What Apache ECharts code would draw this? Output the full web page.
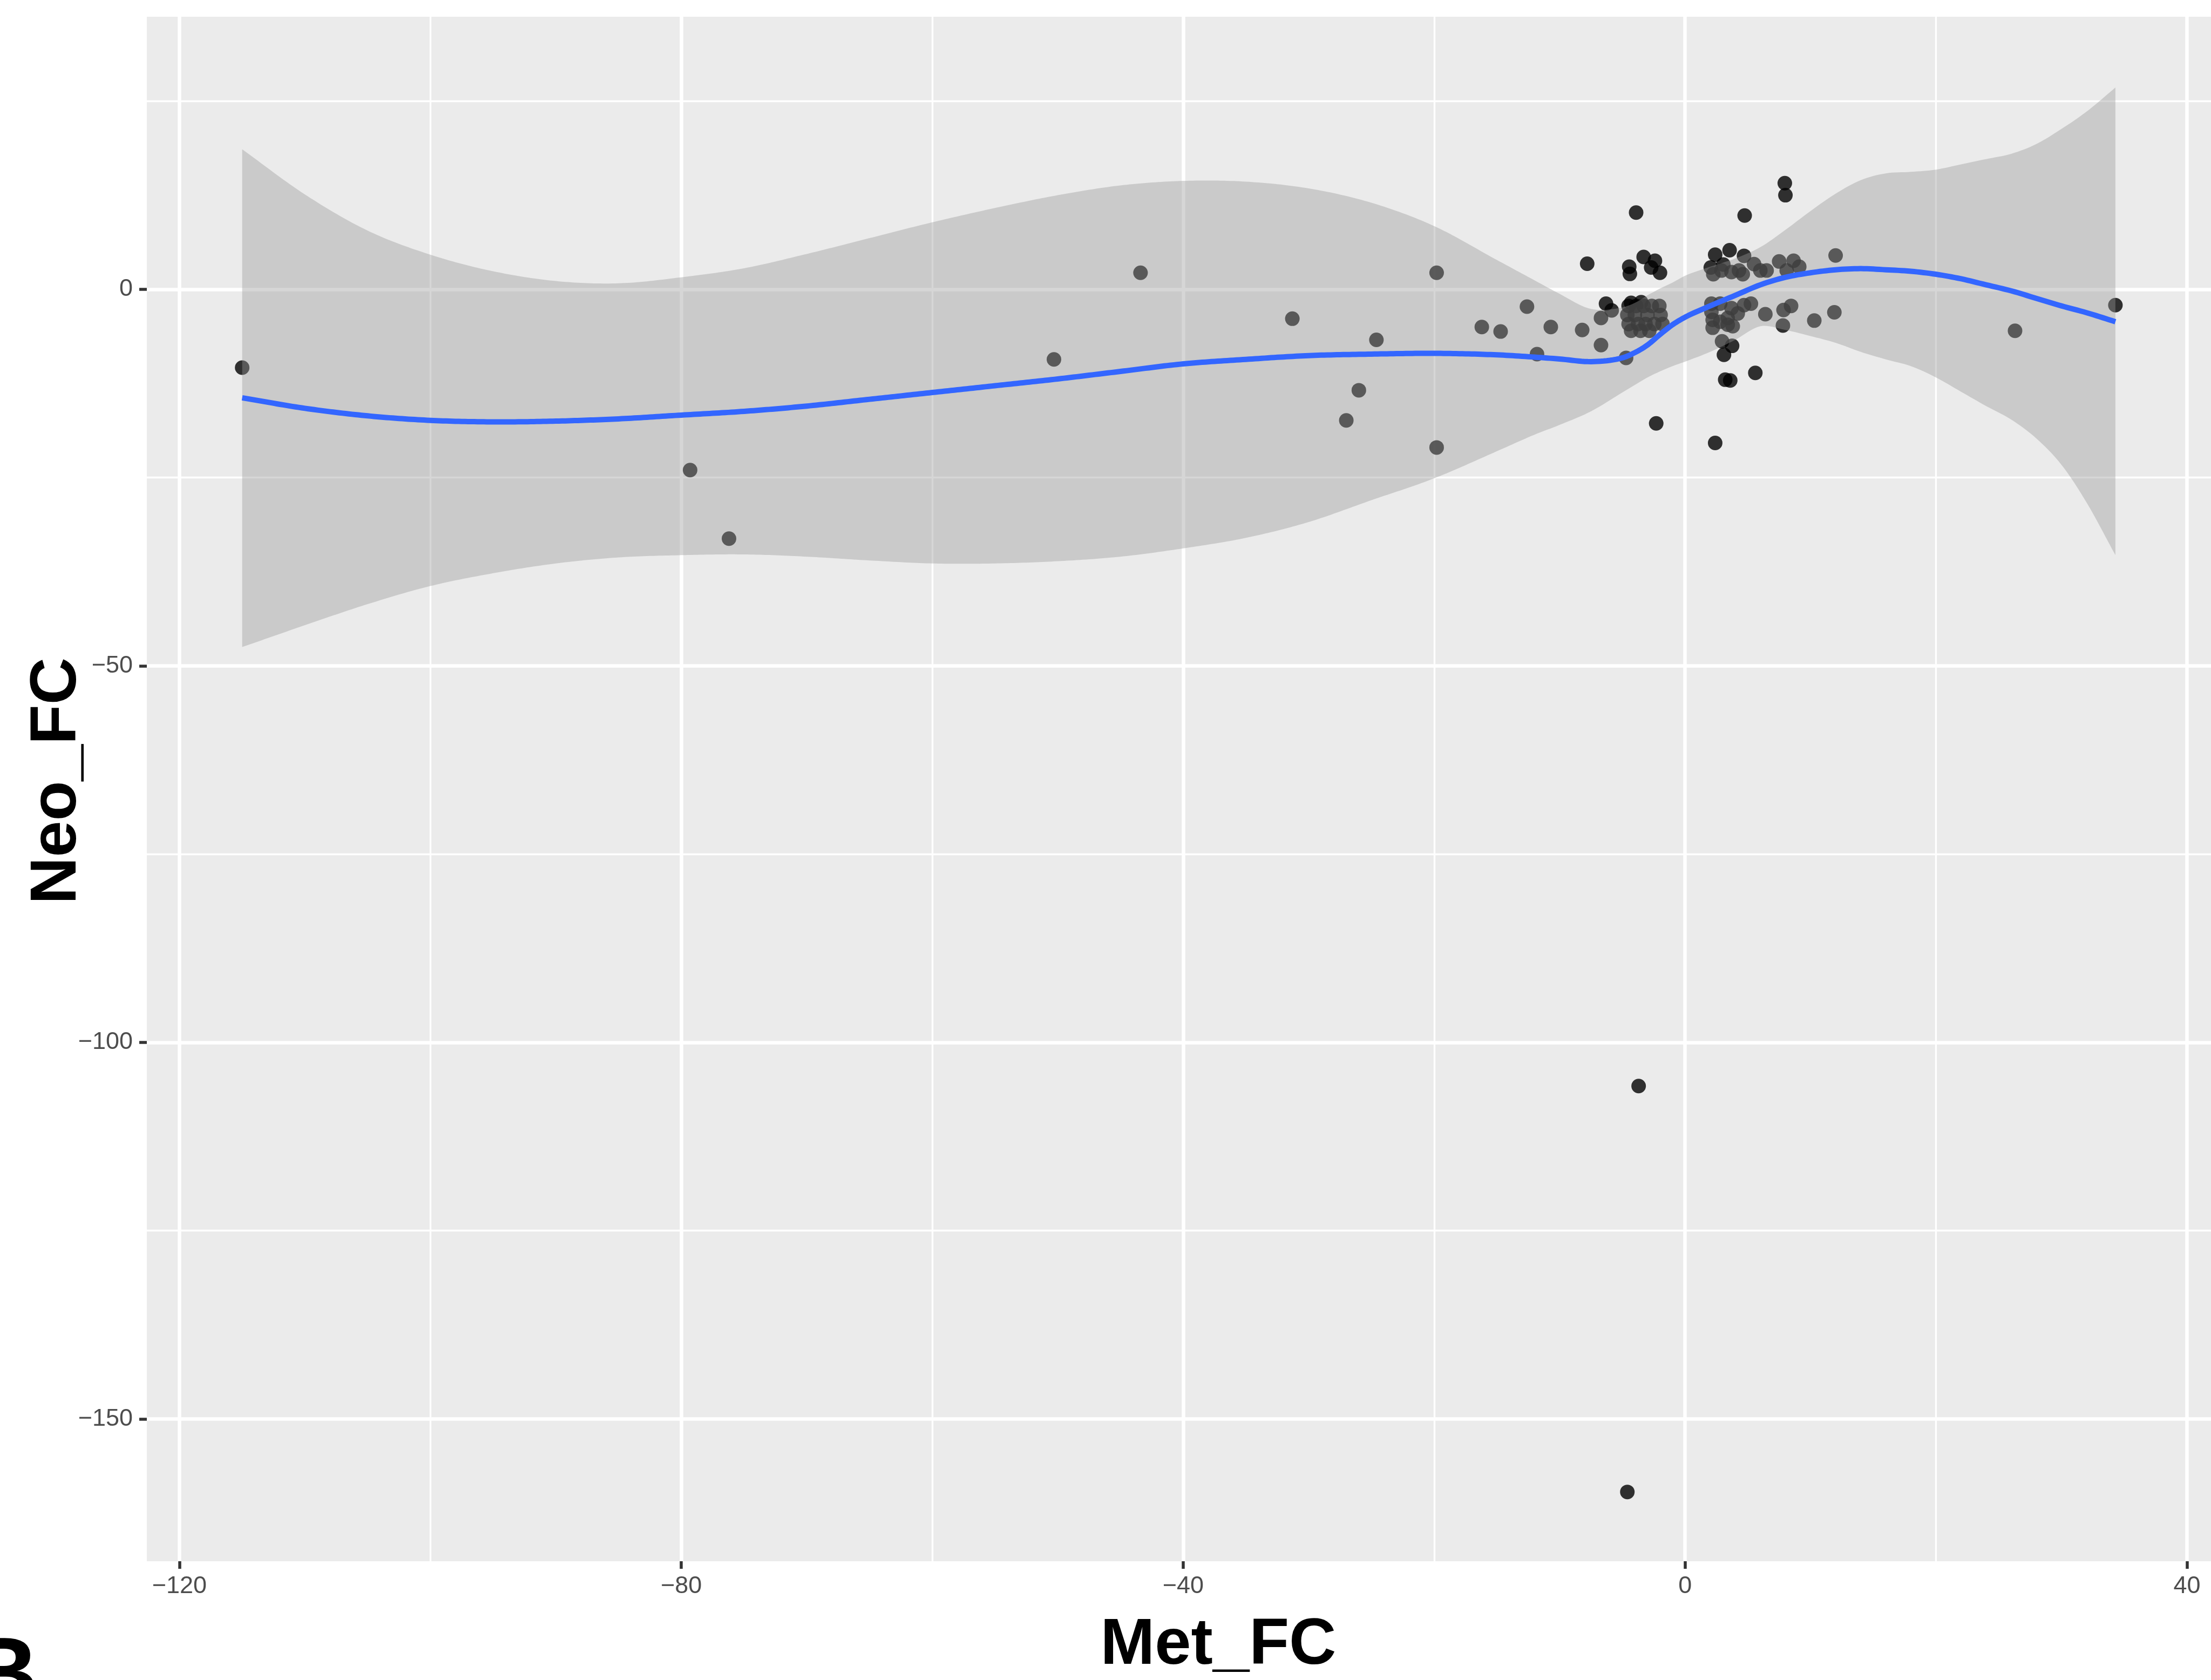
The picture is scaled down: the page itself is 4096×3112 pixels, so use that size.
<!DOCTYPE html>
<html>
<head>
<meta charset="utf-8">
<style>
  html, body { margin: 0; padding: 0; background: #ffffff; }
  #chart { width: 4096px; height: 3112px; }
</style>
<script src="https://cdn.jsdelivr.net/npm/echarts@6/dist/echarts.min.js"></script>
</head>
<body>
<div id="chart"></div>
<script>
// Fold changes per feature: metastasis (x) vs. neoplasm (y)
const metFC = [
  -115.0, -79.3, -76.2, -50.3, -43.4, -31.3, -27.0, -26.0, -24.6, -19.8,
  -19.8, -16.2, -14.7, -12.6, -11.8, -10.7, -8.2, -7.8, -6.7, -6.7,
  -6.3, -5.85, -4.7, -4.6, -3.7, -3.9, -4.45, -4.4, -3.3, -2.4,
  -2.7, -2.0, -2.3,
  -4.3, -3.5, -4.5, -3.9, -3.3, -2.65, -2.05, -4.6, -4.0, -3.0,
  -1.95, -4.5, -3.75, -3.15, -2.45, -1.8, -4.3, -3.55, -2.85,
  2.4, 3.55, 4.7, 2.05, 2.25, 2.9, 3.05, 3.7, 4.3, 4.6,
  5.5, 6.0, 6.5, 7.5, 8.1, 8.65, 9.1, 12.0, 4.75, 7.95, 8.0,
  2.1, 2.1, 2.2, 2.2, 2.8, 3.4, 2.8, 4.2, 4.7, 3.7,
  5.25, 6.4, 7.85, 8.45, 7.8, 10.3, 11.9, 3.4, 3.8, 2.95,
  3.75, 3.1, 2.4, 3.2, 3.6, 5.6, 26.3, 34.3
];
const neoFC = [
  -10.4, -24.0, -33.1, -9.3, 2.2, -3.9, -17.4, -13.4, -6.7, 2.2,
  -21.0, -5.0, -5.6, -2.3, -8.6, -5.0, -5.4, 3.4, -3.8, -7.4,
  -1.9, -2.8, -9.1, -159.7, -105.8, 10.2, 3.0, 2.05, 4.3, 3.8,
  2.9, 2.2, -17.8,
  -1.8, -1.7, -2.2, -2.2, -2.2, -2.2, -2.2, -3.4, -3.4, -3.4,
  -3.4, -4.6, -4.6, -4.6, -4.6, -4.6, -5.5, -5.5, -5.5,
  4.6, 5.2, 4.45, 2.9, 2.0, 2.5, 3.3, 2.3, 2.5, 2.0,
  3.35, 2.5, 2.5, 3.7, 2.5, 3.8, 3.0, 4.5, 9.8, 14.1, 12.5,
  -1.9, -3.0, -4.05, -5.1, -4.3, -3.8, -1.9, -3.2, -2.1, -2.5,
  -1.9, -3.3, -2.75, -2.2, -4.8, -4.15, -3.05, -4.7, -4.9, -6.9,
  -7.5, -8.7, -20.4, -12.0, -12.1, -11.1, -5.5, -2.1
];

// Loess smoother: x positions, fitted values and 95% confidence band
const smoothX = [
  -115, -110, -105, -100, -95, -90, -85, -80, -75, -70, -65, -60, -55, -50,
  -45, -40, -35, -30, -25, -20, -15, -12, -10, -7.5, -5, -4, -3, -2, -1, 0,
  2, 4, 6, 8, 10, 12, 14, 16, 18, 20, 22, 24, 26, 28, 30, 32, 34.3
];
const smoothFit = [
  -14.4, -15.8, -16.8, -17.4, -17.6, -17.5, -17.2, -16.7, -16.2, -15.5, -14.6, -13.7, -12.8, -11.9,
  -10.9, -9.9, -9.3, -8.8, -8.6, -8.5, -8.7, -9.0, -9.25, -9.6, -9.1, -8.4, -7.4, -6.0, -4.7, -3.7,
  -2.2, -0.8, 0.6, 1.6, 2.2, 2.6, 2.75, 2.6, 2.4, 2.0, 1.4, 0.6, -0.2, -1.2, -2.2, -3.1, -4.3
];
const smoothLower = [
  -47.5, -44.6, -41.8, -39.4, -37.7, -36.4, -35.6, -35.3, -35.2, -35.5, -36.0, -36.4, -36.4, -36.1,
  -35.5, -34.4, -33.0, -30.9, -28.0, -25.1, -21.5, -19.3, -18.0, -16.2, -13.7, -12.7, -11.7, -10.9, -10.2, -9.6,
  -8.3, -6.7, -4.9, -5.4, -6.2, -7.1, -8.3, -9.3, -10.2, -11.7, -13.6, -15.5, -17.3, -19.8, -23.3, -28.3, -35.3
];
const smoothUpper = [
  18.6, 12.6, 7.8, 4.6, 2.4, 1.1, 0.8, 1.6, 2.8, 4.7, 6.8, 8.9, 10.8, 12.5,
  13.8, 14.4, 14.3, 13.4, 11.5, 8.4, 3.9, 1.2, -0.6, -2.6, -2.4, -1.8, -0.8, 0.1, 0.9, 1.8,
  3.0, 4.1, 5.6, 7.9, 10.4, 12.7, 14.5, 15.4, 15.6, 15.9, 16.6, 17.3, 18.0, 19.3, 21.3, 23.6, 26.8
];

// Axis ranges and tick positions
const xRange = [-122.6, 48.2];
const yRange = [-168.9, 36.2];
const xMajorTicks = [-120, -80, -40, 0, 40];
const xMinorTicks = [-100, -60, -20, 20];
const yMajorTicks = [-150, -100, -50, 0];
const yMinorTicks = [-125, -75, -25, 25];

const FONT = '"Liberation Sans", Arial, Helvetica, sans-serif';
const withMinus = v => (v < 0 ? '\u2212' + Math.abs(v) : String(v));

const points = metFC.map((x, i) => [x, neoFC[i]]);

// Smooth curve through pixel points (cubic Hermite along x), sampled for drawing
function curveThrough(px) {
  const n = px.length;
  const slope = [];
  for (let i = 0; i < n; i++) {
    if (i === 0) slope.push((px[1][1] - px[0][1]) / (px[1][0] - px[0][0]));
    else if (i === n - 1) slope.push((px[n - 1][1] - px[n - 2][1]) / (px[n - 1][0] - px[n - 2][0]));
    else {
      const a = (px[i][1] - px[i - 1][1]) / (px[i][0] - px[i - 1][0]);
      const b = (px[i + 1][1] - px[i][1]) / (px[i + 1][0] - px[i][0]);
      slope.push((a + b) / 2);
    }
  }
  const out = [];
  for (let i = 0; i < n - 1; i++) {
    const x0 = px[i][0], x1 = px[i + 1][0], h = x1 - x0;
    const y0 = px[i][1], y1 = px[i + 1][1];
    const steps = Math.max(2, Math.ceil(Math.abs(h) / 6));
    for (let s = 0; s < steps; s++) {
      const t = s / steps, t2 = t * t, t3 = t2 * t;
      const yv = (2 * t3 - 3 * t2 + 1) * y0 + (t3 - 2 * t2 + t) * h * slope[i] +
                 (-2 * t3 + 3 * t2) * y1 + (t3 - t2) * h * slope[i + 1];
      out.push([x0 + h * t, yv]);
    }
  }
  out.push(px[n - 1]);
  return out;
}

const chart = echarts.init(document.getElementById('chart'), null, { renderer: 'canvas' });

const minorAxis = (range, ticks, position) => ({
  type: 'value', min: range[0], max: range[1], position: position,
  axisLine: { show: false, onZero: false },
  axisTick: { show: false, customValues: ticks },
  axisLabel: { show: false },
  splitLine: { show: true, lineStyle: { color: '#ffffff', width: 3.3 } }
});

chart.setOption({
  animation: false,
  backgroundColor: '#ffffff',
  grid: {
    left: 272, right: -146, top: 31, bottom: 220,
    show: true, backgroundColor: '#EBEBEB', borderWidth: 0,
    containLabel: false, outerBoundsMode: 'none'
  },
  xAxis: [
    {
      type: 'value', min: xRange[0], max: xRange[1], position: 'bottom',
      name: 'Met_FC', nameLocation: 'middle', nameGap: 96, nameMoveOverlap: false,
      nameTextStyle: { fontFamily: FONT, fontWeight: 'bold', fontSize: 121, color: '#000000' },
      axisLine: { show: false, onZero: false },
      axisTick: { show: true, customValues: xMajorTicks, length: 14, lineStyle: { color: '#333333', width: 5.5 } },
      axisLabel: { customValues: xMajorTicks, formatter: withMinus, margin: 24,
                   fontFamily: FONT, fontSize: 45, color: '#4D4D4D' },
      splitLine: { show: true, lineStyle: { color: '#ffffff', width: 6.5 } }
    },
    minorAxis(xRange, xMinorTicks, 'top')
  ],
  yAxis: [
    {
      type: 'value', min: yRange[0], max: yRange[1], position: 'left',
      name: 'Neo_FC', nameLocation: 'middle', nameGap: 105, nameMoveOverlap: false,
      nameTextStyle: { fontFamily: FONT, fontWeight: 'bold', fontSize: 121, color: '#000000',
                       padding: [0, 0, 0, 30] },
      axisLine: { show: false, onZero: false },
      axisTick: { show: true, customValues: yMajorTicks, length: 14, lineStyle: { color: '#333333', width: 5.5 } },
      axisLabel: { customValues: yMajorTicks, formatter: withMinus, margin: 26,
                   fontFamily: FONT, fontSize: 45, color: '#4D4D4D' },
      splitLine: { show: true, lineStyle: { color: '#ffffff', width: 6.5 } }
    },
    minorAxis(yRange, yMinorTicks, 'right')
  ],
  series: [
    {
      type: 'scatter', data: points, symbol: 'circle', symbolSize: 27,
      itemStyle: { color: '#000000' }, z: 2, silent: true
    },
    {
      // confidence band: upper edge left to right, lower edge back
      type: 'custom', data: [[smoothX[0], smoothFit[0]]], z: 3, silent: true, clip: true,
      renderItem: function (params, api) {
        const upper = curveThrough(smoothX.map((x, i) => api.coord([x, smoothUpper[i]])));
        const lower = curveThrough(smoothX.map((x, i) => api.coord([x, smoothLower[i]])));
        return {
          type: 'polygon',
          shape: { points: upper.concat(lower.reverse()) },
          style: { fill: 'rgba(153,153,153,0.4)', stroke: null }
        };
      }
    },
    {
      // fitted loess curve
      type: 'custom', data: [[smoothX[0], smoothFit[0]]], z: 4, silent: true, clip: true,
      renderItem: function (params, api) {
        const fit = curveThrough(smoothX.map((x, i) => api.coord([x, smoothFit[i]])));
        return {
          type: 'polyline',
          shape: { points: fit },
          style: { stroke: '#3366FF', lineWidth: 10, fill: null, lineJoin: 'round', lineCap: 'butt' }
        };
      }
    }
  ],
  graphic: [
    {
      type: 'text', x: -62, y: 3018, silent: true,
      style: { text: 'B', fontFamily: FONT, fontWeight: 'bold', fontSize: 185,
               fill: '#000000', align: 'left', verticalAlign: 'top' }
    }
  ]
});
</script>
</body>
</html>
